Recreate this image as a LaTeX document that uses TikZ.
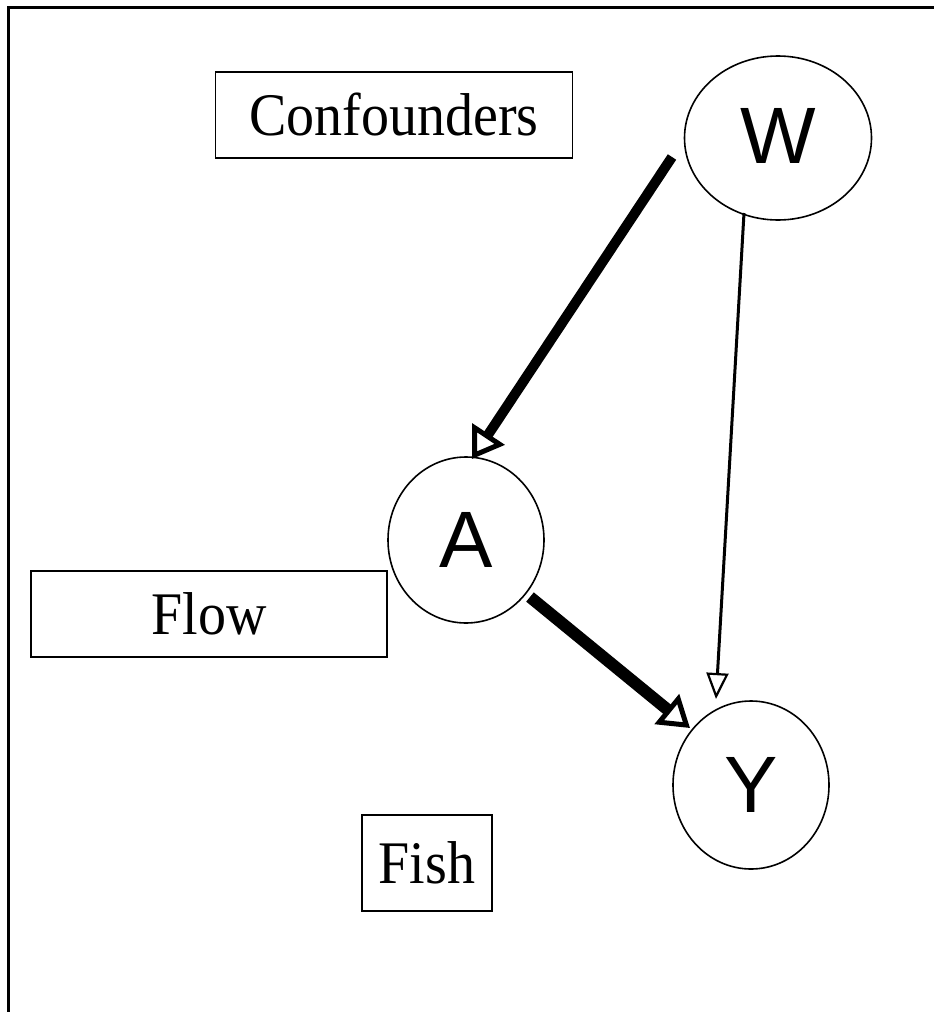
\documentclass[tikz,border=0pt]{standalone}
\usepackage{fontspec}
\setmainfont{Liberation Serif}
\setsansfont{Liberation Sans}
\usetikzlibrary{shapes.geometric,arrows.meta,calc}
\tikzset{
  ell/.style={draw, ellipse, line width=1.6pt, inner sep=0pt, font=\sffamily\fontsize{80}{84}\selectfont},
  labelbox/.style={draw, rectangle, line width=1.4pt, inner sep=0pt, font=\fontsize{56}{60}\selectfont},
  thickarrow/.style={line width=10pt, -{Triangle[open, length=30pt, width=38pt, line width=5pt]}},
  thinarrow/.style={line width=3pt, -{Triangle[open, length=26pt, width=22pt, line width=2.2pt]}},
}
\begin{document}
\begin{tikzpicture}[x=1pt,y=-1pt]
\useasboundingbox (0,0) rectangle (934,1012);
\fill[white] (0,0) rectangle (934,1012);
\draw[line width=3pt] (8,1012) -- (8,7) -- (934,7);

\node[ell, minimum width=187pt, minimum height=164pt] (W) at (778,138) {\raisebox{5pt}{W}};
\node[ell, minimum width=156pt, minimum height=166pt] (A) at (466,540) {A};
\node[ell, minimum width=156pt, minimum height=168pt] (Y) at (751,785) {Y};

\node[labelbox, minimum width=357pt, minimum height=86pt] (C) at (394,115) {\scalebox{1}[1.08]{Confounders}};
\node[labelbox, minimum width=356pt, minimum height=86pt] (F) at (209,614) {\scalebox{1}[1.08]{Flow}};
\node[labelbox, minimum width=130pt, minimum height=96pt] (Fi) at (427,863) {\scalebox{1}[1.08]{Fish}};

\draw[thickarrow] ($(W.center)+(-106,19)$) -- ($(A.center)+(6,-81)$);
\draw[thickarrow, line width=12pt] ($(A.center)+(64,57)$) -- ($(Y.center)+(-61,-57)$);
\draw[thinarrow] ($(W.center)+(-34,75)$) -- ($(Y.center)+(-35,-86)$);
\end{tikzpicture}
\end{document}
